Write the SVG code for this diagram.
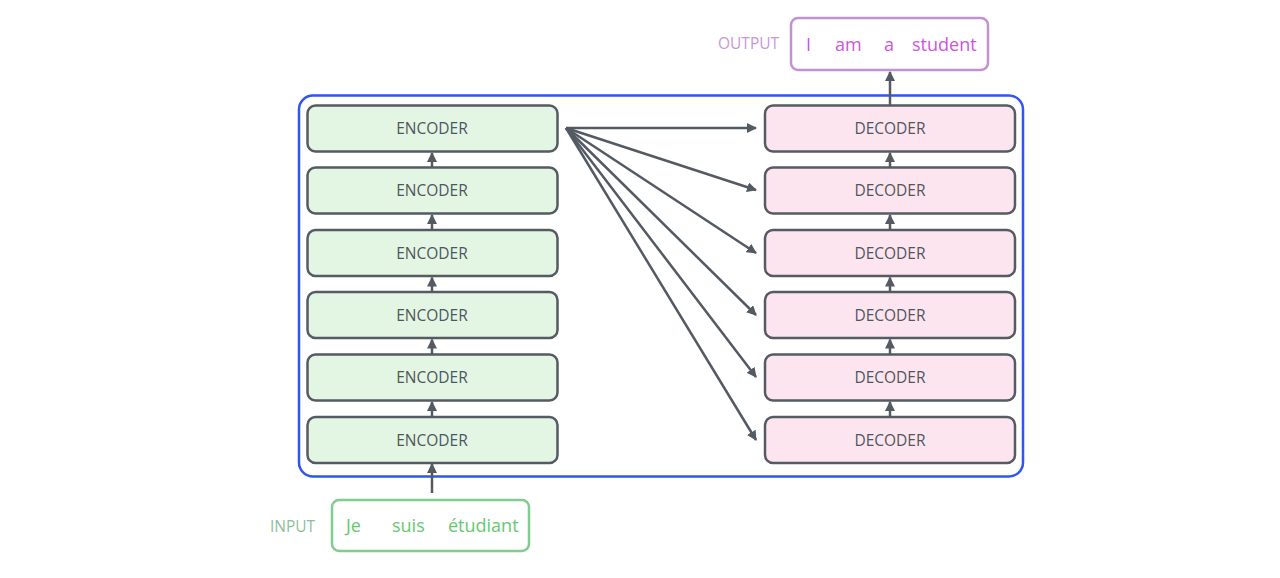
<svg xmlns="http://www.w3.org/2000/svg" width="1280" height="578" viewBox="0 0 1280 578">
<defs>
<marker id="ah" viewBox="0 0 10 10" refX="9" refY="5" markerWidth="4" markerHeight="4" orient="auto" markerUnits="strokeWidth"><path d="M0,0 L10,5 L0,10 z" fill="#545a62"/></marker>
<style>
.enc{fill:#e3f5e3;stroke:#555b63;stroke-width:2.5}
.dec{fill:#fde5ef;stroke:#555b63;stroke-width:2.5}
.lbl{font-family:"Open Sans","Liberation Sans",sans-serif;font-size:15.5px;fill:#50565e;text-anchor:middle}
.tag{font-family:"Open Sans","Liberation Sans",sans-serif;font-size:15.5px}
.conn line{stroke:#545a62;stroke-width:2.5;fill:none;marker-end:url(#ah)}
.w{font-family:"Open Sans","Liberation Sans",sans-serif;font-size:18px}
</style>
</defs>
<rect width="1280" height="578" fill="#ffffff"/>
<rect id="stack" x="299" y="95.5" width="724" height="381" rx="14" fill="none" stroke="#2e56f0" stroke-width="2.5"/>
<g id="encoders">
<g id="enc6"><rect class="enc" x="307.5" y="105.5" width="250" height="46" rx="8"/><text class="lbl" x="432" y="134">ENCODER</text></g>
<g id="enc5"><rect class="enc" x="307.5" y="167.5" width="250" height="46" rx="8"/><text class="lbl" x="432" y="196">ENCODER</text></g>
<g id="enc4"><rect class="enc" x="307.5" y="230" width="250" height="46" rx="8"/><text class="lbl" x="432" y="258.5">ENCODER</text></g>
<g id="enc3"><rect class="enc" x="307.5" y="292" width="250" height="46" rx="8"/><text class="lbl" x="432" y="320.5">ENCODER</text></g>
<g id="enc2"><rect class="enc" x="307.5" y="354.5" width="250" height="46" rx="8"/><text class="lbl" x="432" y="383">ENCODER</text></g>
<g id="enc1"><rect class="enc" x="307.5" y="417" width="250" height="46" rx="8"/><text class="lbl" x="432" y="445.5">ENCODER</text></g>
</g>
<g id="decoders">
<g id="dec6"><rect class="dec" x="765" y="105.5" width="250" height="46" rx="8"/><text class="lbl" x="890" y="134">DECODER</text></g>
<g id="dec5"><rect class="dec" x="765" y="167.5" width="250" height="46" rx="8"/><text class="lbl" x="890" y="196">DECODER</text></g>
<g id="dec4"><rect class="dec" x="765" y="230" width="250" height="46" rx="8"/><text class="lbl" x="890" y="258.5">DECODER</text></g>
<g id="dec3"><rect class="dec" x="765" y="292" width="250" height="46" rx="8"/><text class="lbl" x="890" y="320.5">DECODER</text></g>
<g id="dec2"><rect class="dec" x="765" y="354.5" width="250" height="46" rx="8"/><text class="lbl" x="890" y="383">DECODER</text></g>
<g id="dec1"><rect class="dec" x="765" y="417" width="250" height="46" rx="8"/><text class="lbl" x="890" y="445.5">DECODER</text></g>
</g>
<g id="input">
<text class="tag" x="270" y="532" fill="#8cbf97">INPUT</text>
<rect x="332" y="500" width="197" height="51" rx="7" fill="#ffffff" stroke="#82cc92" stroke-width="2.5"/>
<text class="w" y="532" fill="#66c971"><tspan x="346">Je</tspan><tspan x="392">suis</tspan><tspan x="448">étudiant</tspan></text>
</g>
<g id="output">
<text class="tag" x="718" y="49" fill="#c897d6">OUTPUT</text>
<rect x="791" y="18" width="197" height="52" rx="7" fill="#ffffff" stroke="#c291cf" stroke-width="2.5"/>
<text class="w" y="51" fill="#cc55dd"><tspan x="806">I</tspan><tspan x="835">am</tspan><tspan x="884">a</tspan><tspan x="912">student</tspan></text>
</g>
<g id="connectors" class="conn">
<line x1="432" y1="493" x2="432" y2="464"/>
<line x1="432" y1="417" x2="432" y2="402"/>
<line x1="432" y1="354.5" x2="432" y2="339.5"/>
<line x1="432" y1="292" x2="432" y2="277.5"/>
<line x1="432" y1="230" x2="432" y2="215"/>
<line x1="432" y1="167.5" x2="432" y2="153"/>
<line x1="890" y1="417" x2="890" y2="402"/>
<line x1="890" y1="354.5" x2="890" y2="339.5"/>
<line x1="890" y1="292" x2="890" y2="277.5"/>
<line x1="890" y1="230" x2="890" y2="215"/>
<line x1="890" y1="167.5" x2="890" y2="153"/>
<line x1="890" y1="105.5" x2="890" y2="72"/>
<line x1="566" y1="128" x2="756" y2="128"/>
<line x1="566" y1="128" x2="756" y2="190"/>
<line x1="566" y1="128" x2="756" y2="253"/>
<line x1="566" y1="128" x2="756" y2="315"/>
<line x1="566" y1="128" x2="756" y2="377"/>
<line x1="566" y1="128" x2="756" y2="440"/>
</g>
</svg>
